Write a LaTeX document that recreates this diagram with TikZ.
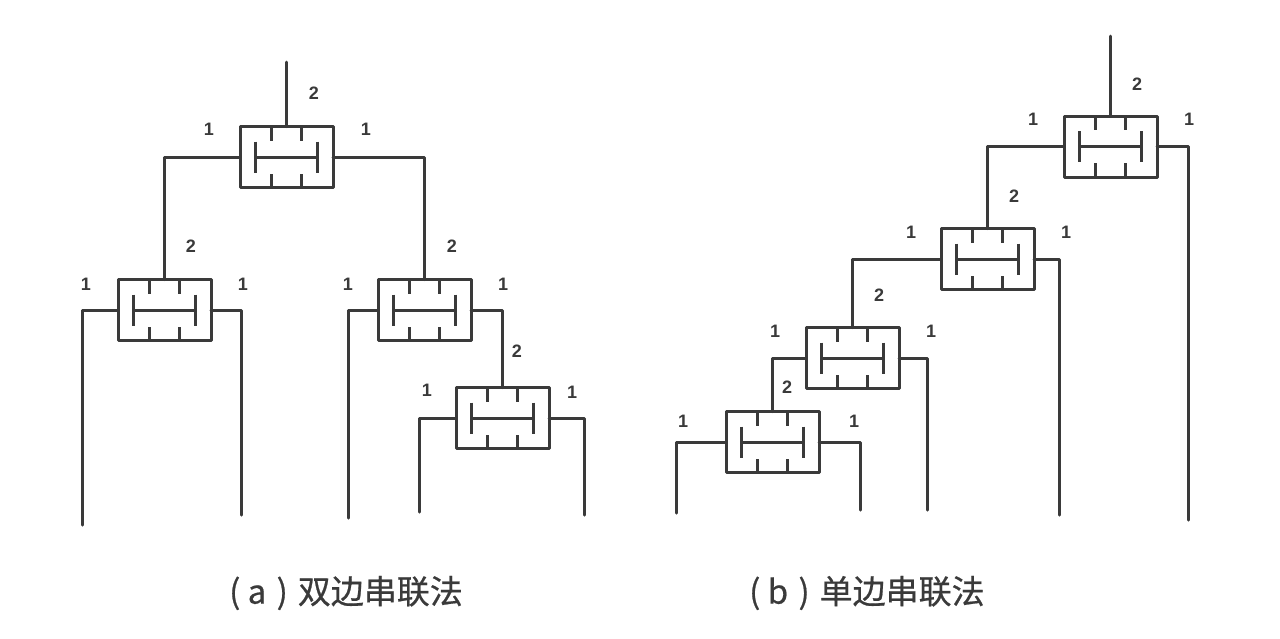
\documentclass[tikz,border=0pt]{standalone}
\usepackage{fontspec}
\newfontfamily\cjk[FakeBold=0.6]{Noto Sans CJK SC}
\setmainfont{Liberation Sans}
\definecolor{ink}{HTML}{3A3A3A}
\tikzset{
  wire/.style={draw=ink,line width=3pt,line cap=round,line join=round},
  unitbox/.style={draw=ink,line width=3pt,line join=round,fill=white,minimum width=93pt,minimum height=61pt,inner sep=0pt,outer sep=0pt},
  num/.style={text=ink,font=\fontsize{18}{18}\selectfont\bfseries,inner sep=0pt},
  captext/.style={text=ink,font=\fontsize{33}{33}\selectfont\cjk,inner sep=0pt,anchor=west},
  innerwire/.style={draw=ink,line width=3pt}
}
\newcommand{\clutch}[2]{%
  \node[unitbox] (#1) at (#2) {};
  \draw[innerwire] ([xshift=-15pt]#1.north) -- ++(0,-14pt);
  \draw[innerwire] ([xshift=15pt]#1.north) -- ++(0,-14pt);
  \draw[innerwire] ([xshift=-15pt]#1.south) -- ++(0,14pt);
  \draw[innerwire] ([xshift=15pt]#1.south) -- ++(0,14pt);
  \draw[innerwire] ([xshift=-31pt,yshift=15.5pt]#1.center) -- ([xshift=-31pt,yshift=-15.5pt]#1.center);
  \draw[innerwire] ([xshift=31pt,yshift=15.5pt]#1.center) -- ([xshift=31pt,yshift=-15.5pt]#1.center);
  \draw[innerwire] ([xshift=-31pt]#1.center) -- ([xshift=31pt]#1.center);
}
\begin{document}
\begin{tikzpicture}[x=1pt,y=-1pt]
\useasboundingbox (0,0) rectangle (1280,638);
\fill[white] (0,0) rectangle (1280,638);
% free ends
\coordinate (at) at (286.5,62);
\coordinate (a2l) at (82,525);
\coordinate (a2r) at (241,515);
\coordinate (a3l) at (348,518);
\coordinate (a4l) at (419,512);
\coordinate (a4r) at (584,515);
\coordinate (bt) at (1110.5,36);
\coordinate (b1r) at (1188,520);
\coordinate (b2r) at (1059,515);
\coordinate (b3r) at (927,510);
\coordinate (b4l) at (676,513);
\coordinate (b4r) at (860,510);
% units
\clutch{a1}{286.5,157}
\clutch{a2}{164.5,310}
\clutch{a3}{424.5,310}
\clutch{a4}{502.5,418}
\clutch{b1}{1110.5,146.5}
\clutch{b2}{987.5,259}
\clutch{b3}{852.5,358}
\clutch{b4}{772.5,442}
% connectors (a)
\draw[wire] (at) -- (a1.north);
\draw[wire] (a1.west) -| (a2.north);
\draw[wire] (a1.east) -| (a3.north);
\draw[wire] (a2.west) -| (a2l);
\draw[wire] (a2.east) -| (a2r);
\draw[wire] (a3.west) -| (a3l);
\draw[wire] (a3.east) -| (a4.north);
\draw[wire] (a4.west) -| (a4l);
\draw[wire] (a4.east) -| (a4r);
% connectors (b)
\draw[wire] (bt) -- (b1.north);
\draw[wire] (b1.west) -| (b2.north);
\draw[wire] (b1.east) -| (b1r);
\draw[wire] (b2.west) -| (b3.north);
\draw[wire] (b2.east) -| (b2r);
\draw[wire] (b3.west) -| (b4.north);
\draw[wire] (b3.east) -| (b3r);
\draw[wire] (b4.west) -| (b4l);
\draw[wire] (b4.east) -| (b4r);
% labels (a)
\node[num] (n1) at (314,93) {2};
\node[num] (n2) at (209,129) {1};
\node[num] (n3) at (366,129) {1};
\node[num] (n4) at (86,284) {1};
\node[num] (n5) at (191,246) {2};
\node[num] (n6) at (243,284) {1};
\node[num] (n7) at (348,284) {1};
\node[num] (n8) at (452,246) {2};
\node[num] (n9) at (503,284) {1};
\node[num] (n10) at (427,390) {1};
\node[num] (n11) at (517,351) {2};
\node[num] (n12) at (572,392) {1};
% labels (b)
\node[num] (m1) at (1137,84) {2};
\node[num] (m2) at (1033,119) {1};
\node[num] (m3) at (1189,119) {1};
\node[num] (m4) at (1014,196) {2};
\node[num] (m5) at (911,232) {1};
\node[num] (m6) at (1066,232) {1};
\node[num] (m7) at (879,295) {2};
\node[num] (m8) at (775,331) {1};
\node[num] (m9) at (931,331) {1};
\node[num] (m10) at (787,387) {2};
\node[num] (m11) at (683,421) {1};
\node[num] (m12) at (854,421) {1};
% captions
\node[captext] (capa) at (229,593) {( a\hspace{3pt} )\hspace{10pt}双边串联法};
\node[captext] (capb) at (749,593) {( b\hspace{3pt} )\hspace{10pt}单边串联法};
\end{tikzpicture}
\end{document}
